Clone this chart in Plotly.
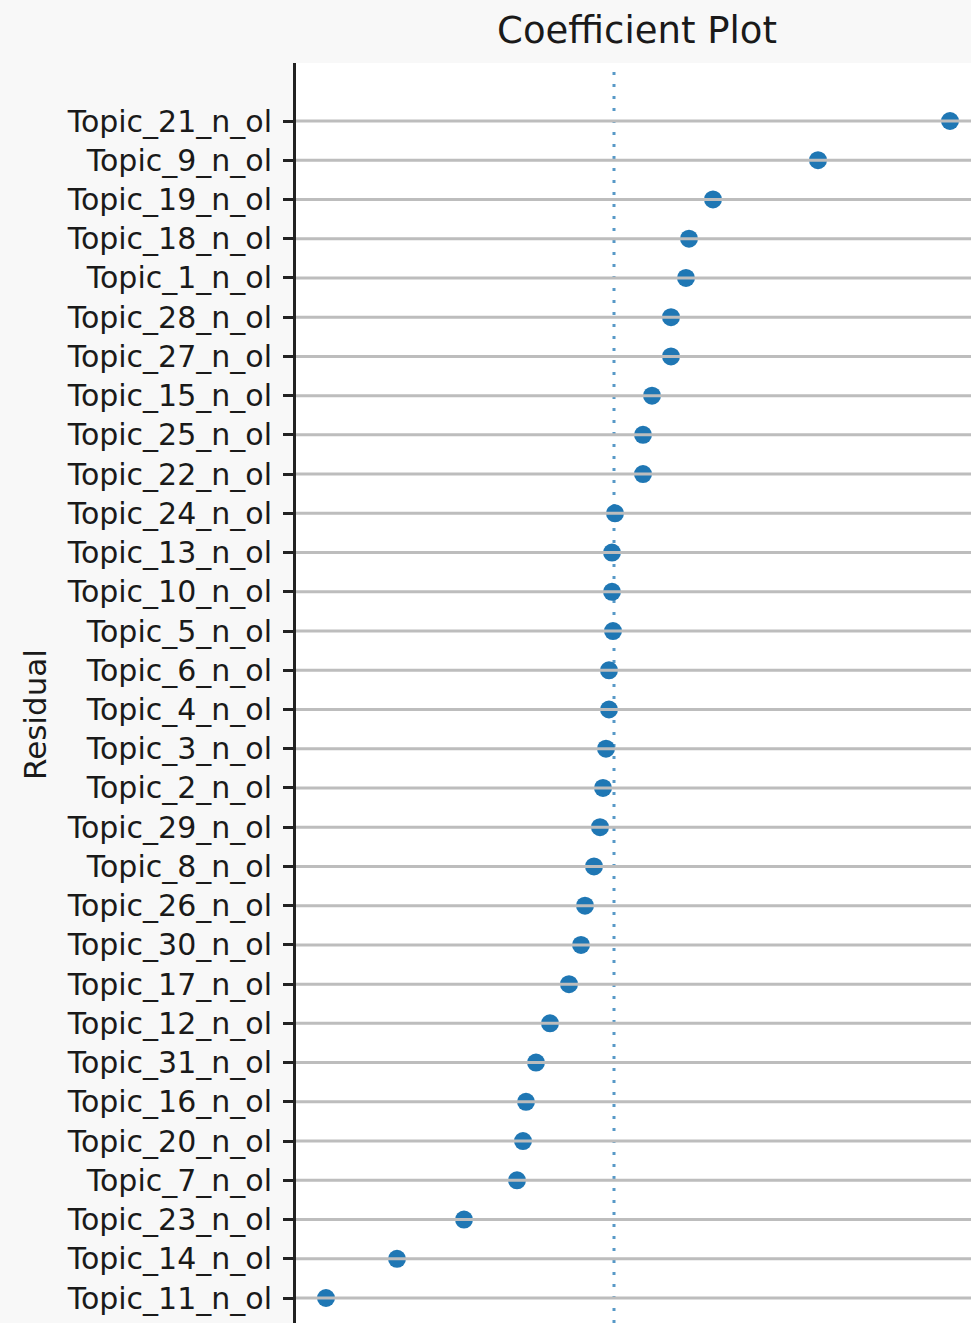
import plotly.graph_objects as go

topics = ["Topic_21_n_ol", "Topic_9_n_ol", "Topic_19_n_ol", "Topic_18_n_ol", "Topic_1_n_ol",
          "Topic_28_n_ol", "Topic_27_n_ol", "Topic_15_n_ol", "Topic_25_n_ol", "Topic_22_n_ol",
          "Topic_24_n_ol", "Topic_13_n_ol", "Topic_10_n_ol", "Topic_5_n_ol", "Topic_6_n_ol",
          "Topic_4_n_ol", "Topic_3_n_ol", "Topic_2_n_ol", "Topic_29_n_ol", "Topic_8_n_ol",
          "Topic_26_n_ol", "Topic_30_n_ol", "Topic_17_n_ol", "Topic_12_n_ol", "Topic_31_n_ol",
          "Topic_16_n_ol", "Topic_20_n_ol", "Topic_7_n_ol", "Topic_23_n_ol", "Topic_14_n_ol",
          "Topic_11_n_ol"]
coefs = [0.336, 0.204, 0.099, 0.075, 0.072,
         0.057, 0.057, 0.038, 0.029, 0.029,
         0.001, -0.002, -0.002, -0.001, -0.005,
         -0.005, -0.008, -0.011, -0.014, -0.020,
         -0.029, -0.033, -0.045, -0.064, -0.078,
         -0.088, -0.091, -0.097, -0.150, -0.217,
         -0.288]

W, H = 971, 1323
ML, MT = 296, 63

fig = go.Figure()
fig.add_trace(go.Scatter(
    x=coefs, y=topics, mode="markers",
    marker=dict(color="#1f77b4", size=18, line=dict(width=0)),
    showlegend=False, hoverinfo="x+y"))

# zero reference line (dotted)
fig.add_shape(type="line", xref="x", yref="paper", x0=0, x1=0, y0=0, y1=1,
              line=dict(color="rgba(31,119,180,0.75)", width=3, dash="3px,9px"),
              layer="above")
# horizontal grid lines drawn over markers
for t in topics:
    fig.add_shape(type="line", xref="paper", yref="y", x0=0, x1=1, y0=t, y1=t,
                  line=dict(color="#bdbdbd", width=3), layer="above")

# y-axis label
fig.add_annotation(text="Residual", xref="paper", yref="paper",
                   x=(35 - ML) / (W - ML), y=1 - (715 - MT) / (H - MT),
                   xanchor="center", yanchor="middle", textangle=-90, showarrow=False,
                   font=dict(size=31, family="DejaVu Sans", color="#1a1a1a"))

n = len(topics)
sp = (1298 - 121) / (n - 1)
fig.update_layout(
    width=W, height=H,
    margin=dict(l=ML, r=0, t=MT, b=0, pad=0),
    paper_bgcolor="#f8f8f8",
    plot_bgcolor="white",
    font=dict(family="DejaVu Sans", color="#1a1a1a", size=30),
    title=dict(text="Coefficient Plot", x=637 / W, xanchor="center", xref="container",
               y=1 - 30 / H, yanchor="middle", yref="container",
               font=dict(size=37, family="DejaVu Sans", color="#1a1a1a")),
    xaxis=dict(range=[(ML - 614) / 1000, (W - 614) / 1000], showgrid=False, zeroline=False,
               showticklabels=False, ticks="", showline=False),
    yaxis=dict(type="category", categoryorder="array", categoryarray=topics,
               range=[(n - 1) + 25 / sp, -58 / sp],
               showgrid=False, zeroline=False,
               showline=True, linecolor="#222222", linewidth=3,
               ticks="outside", ticklen=10, tickwidth=3, tickcolor="#222222",
               ticklabelstandoff=5,
               tickfont=dict(size=30, family="DejaVu Sans", color="#1a1a1a")),
)
fig.write_html("out.html", config={"displayModeBar": False},
               post_script="document.body.style.margin='0';document.body.style.padding='0';")
